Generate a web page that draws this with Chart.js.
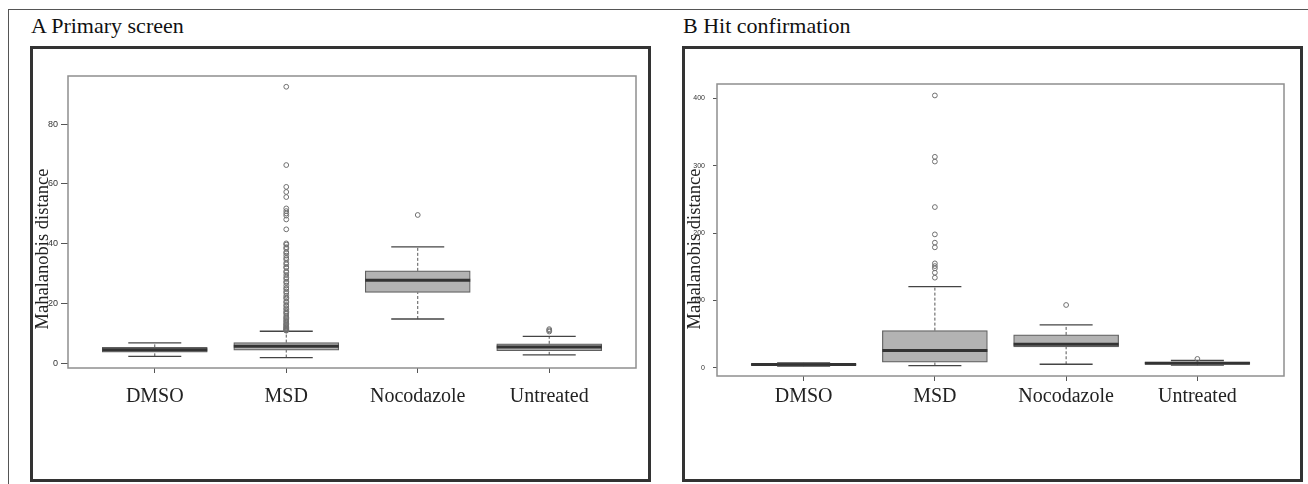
<!DOCTYPE html>
<html>
<head>
<meta charset="utf-8">
<script src="https://cdn.jsdelivr.net/npm/chart.js@4/dist/chart.umd.min.js"></script>
<style>
  html, body { margin: 0; padding: 0; background: #fff; }
  body { width: 1308px; height: 484px; position: relative; overflow: hidden; }
  #outer { position: absolute; left: 8px; top: 9px; width: 1320px; height: 490px; border: 1px solid #555; box-sizing: border-box; }
  .ttl { position: absolute; top: 15px; font: 22px/22px "Liberation Serif", "Times New Roman", serif; color: #111; white-space: nowrap; }
  .frame { position: absolute; top: 46px; width: 621px; height: 436px; border: 3px solid #333; box-sizing: border-box; }
  canvas { position: absolute; top: 50px; }
</style>
</head>
<body>
<div id="outer"></div>

<div class="ttl" style="left:31px">A Primary screen</div>
<div class="frame" style="left:30px"></div>
<canvas id="cA" width="614" height="428" style="left:34px"></canvas>

<div class="ttl" style="left:683px">B Hit confirmation</div>
<div class="frame" style="left:682px"></div>
<canvas id="cB" width="612" height="428" style="left:686px"></canvas>

<script>
var groups = ["DMSO", "MSD", "Nocodazole", "Untreated"];
var yLabel = "Mahalanobis distance";

// A - primary screen
var aLo  = [2.3, 1.9, 14.8, 2.8];
var aQ1  = [3.7, 4.4, 23.7, 4.2];
var aMed = [4.5, 5.7, 27.8, 5.4];
var aQ3  = [5.3, 6.9, 30.9, 6.5];
var aHi  = [6.8, 10.7, 38.9, 9.0];
var aOutMSD = [92.5, 66.3, 59.0, 57.3, 55.6, 51.8, 50.9, 50.1, 49.4, 48.1, 44.8,
  40.1, 39.7, 38.8, 38.3, 37.2, 36.8, 36.0, 35.2, 34.7, 33.6, 33.1, 32.2, 31.9, 30.8,
  30.4, 29.5, 28.7, 28.2, 27.3, 26.9, 26.0, 25.2, 24.8, 24.0, 23.5, 22.6, 22.0, 21.6,
  20.7, 20.3, 19.5, 19.1, 18.4, 18.0, 17.3, 16.9, 16.5, 15.8, 15.3, 15.0, 14.5, 14.1,
  13.8, 13.3, 13.0, 12.8, 12.4, 12.1, 11.9, 11.6, 11.4, 11.2, 11.0, 10.9];
var aOut = [[], aOutMSD, [49.6], [10.6, 11.0, 11.4]];
var aTicks = [0, 20, 40, 60, 80];

// B - hit confirmation
var bLo  = [2.5, 3.5, 5.4, 4.0];
var bQ1  = [4.0, 8.4, 31.1, 5.5];
var bMed = [5.0, 25.7, 35.0, 7.0];
var bQ3  = [6.0, 55.3, 48.9, 8.5];
var bHi  = [7.5, 120.5, 63.7, 11.0];
var bOut = [[], [404, 313, 306, 238.5, 198, 185.7, 178.8, 155, 151, 147.6, 141.2, 133.8], [93.3], [13.3]];
var bTicks = [0, 100, 200, 300, 400];

// the grey box R draws round the plot region
var plotFrame = {
  id: "plotFrame",
  afterDatasetsDraw: function(c) {
    var a = c.chartArea, ctx = c.ctx;
    ctx.save();
    ctx.strokeStyle = "#8f8f8f";
    ctx.lineWidth = 1.5;
    ctx.strokeRect(a.left, a.top, a.right - a.left, a.bottom - a.top);
    ctx.restore();
  }
};

// y title sits a bit below the middle of the plot in the figure, the built-in
// axis title can only center it, so drawing it here instead
var yTitle = {
  id: "yTitle",
  afterDraw: function(c, args, o) {
    var a = c.chartArea, ctx = c.ctx;
    ctx.save();
    ctx.translate(o.x, (a.top + a.bottom) / 2 + o.shift);
    ctx.rotate(-Math.PI / 2);
    ctx.font = "18.5px 'Liberation Serif', 'Times New Roman', serif";
    ctx.fillStyle = "#222";
    ctx.textAlign = "center";
    ctx.textBaseline = "alphabetic";
    ctx.fillText(o.text, 0, 0);
    ctx.restore();
  }
};

function boxChart(id, lo, q1, med, q3, hi, out, yTicks, o) {
  var boxes = [], meds = [], caps = [], whisk = [], pts = [];
  for (var i = 0; i < groups.length; i++) {
    var x = i + 1;
    boxes.push({ x: x, y: [q1[i], q3[i]] });
    meds.push({ x: x, y: med[i] });
    caps.push({ x: x, y: hi[i] }, { x: x, y: lo[i] });
    whisk.push({ x: x, y: q3[i] }, { x: x, y: hi[i] }, { x: x, y: null },
               { x: x, y: lo[i] }, { x: x, y: q1[i] }, { x: x, y: null });
    for (var j = 0; j < out[i].length; j++) pts.push({ x: x, y: out[i][j] });
  }

  return new Chart(document.getElementById(id), {
    type: "bar",
    data: {
      datasets: [
        { type: "line", data: whisk, borderColor: "#555", borderWidth: 1, borderDash: [3, 2],
          pointRadius: 0, spanGaps: false, order: 5 },
        { type: "bar", data: boxes, backgroundColor: "#b3b3b3", borderColor: "#606060",
          borderWidth: 1.2, borderSkipped: false, barThickness: 105, order: 4 },
        { type: "line", data: meds, showLine: false, pointStyle: "line", pointRadius: 52.5,
          pointBorderWidth: 3, pointBorderColor: "#333", order: 3 },
        { type: "line", data: caps, showLine: false, pointStyle: "line", pointRadius: 26.5,
          pointBorderWidth: 1.3, pointBorderColor: "#444", order: 2 },
        { type: "line", data: pts, showLine: false, pointStyle: "circle", pointRadius: 2.4,
          pointBorderWidth: 1, pointBorderColor: "#707070", pointBackgroundColor: "rgba(0,0,0,0)", order: 1 }
      ]
    },
    options: {
      responsive: false,
      animation: false,
      events: [],
      // the wide "line" points for medians/caps would otherwise add padding
      layout: { autoPadding: false, padding: { left: 0, top: o.top, right: o.right, bottom: o.bottom } },
      plugins: {
        legend: { display: false },
        tooltip: { enabled: false },
        yTitle: { text: yLabel, x: 14, shift: o.titleShift }
      },
      scales: {
        x: {
          type: "linear", min: 0.34, max: 4.66, bounds: "data", offset: false,
          grid: { drawOnChartArea: false, tickLength: 5, color: "#555", offset: false },
          border: { display: false },
          afterBuildTicks: function(s) { s.ticks = groups.map(function(g, i) { return { value: i + 1 }; }); },
          afterFit: function(s) { s.height = 50; },
          ticks: {
            autoSkip: false, maxRotation: 0, padding: o.labelPad, color: "#222",
            font: { family: "'Liberation Serif', 'Times New Roman', serif", size: 20 },
            callback: function(v) { return groups[v - 1]; }
          }
        },
        y: {
          type: "linear", min: o.yMin, max: o.yMax, bounds: "data",
          grid: { drawOnChartArea: false, tickLength: o.tickLen, color: "#555" },
          border: { display: false },
          afterBuildTicks: function(s) { s.ticks = yTicks.map(function(v) { return { value: v }; }); },
          afterFit: function(s) { s.width = o.yWidth; },
          ticks: { padding: o.tickPad, color: "#333",
                   font: { family: "'Liberation Sans', Arial, sans-serif", size: o.tickSize } }
        }
      }
    },
    plugins: [plotFrame, yTitle]
  });
}

boxChart("cA", aLo, aQ1, aMed, aQ3, aHi, aOut, aTicks,
  { yMin: -1.6, yMax: 96.1, top: 26, right: 12, bottom: 60, yWidth: 34,
    tickLen: 7, tickPad: 3, tickSize: 9, labelPad: 12, titleShift: 27 });

boxChart("cB", bLo, bQ1, bMed, bQ3, bHi, bOut, bTicks,
  { yMin: -12, yMax: 421, top: 34, right: 14, bottom: 52, yWidth: 31,
    tickLen: 4, tickPad: 8, tickSize: 7, labelPad: 4, titleShift: 19 });
</script>
</body>
</html>
